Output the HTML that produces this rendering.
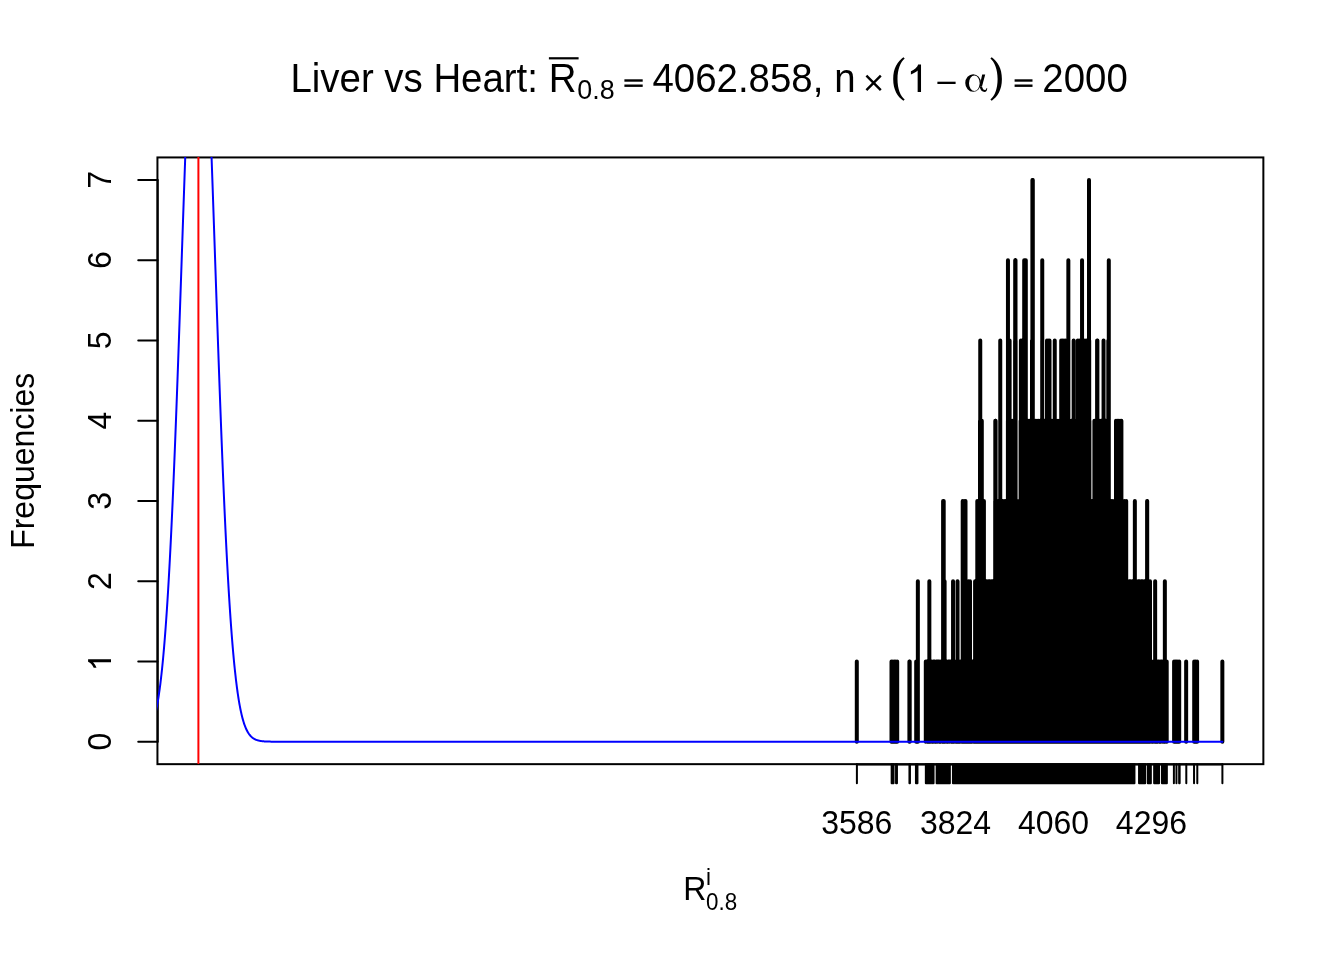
<!DOCTYPE html><html><head><meta charset="utf-8"><style>html,body{margin:0;padding:0;background:#fff;overflow:hidden}svg{display:block;will-change:transform}text{font-family:"Liberation Sans",sans-serif}</style></head><body>
<svg width="1344" height="960" viewBox="0 0 1344 960">
<rect width="1344" height="960" fill="#fff"/>
<defs><clipPath id="pc"><rect x="157.0" y="157.0" width="1106.90" height="607.20"/></clipPath></defs>
<path d="M856.80 741.69V661.44M891.50 741.69V661.44M892.92 741.69V661.44M894.35 741.69V661.44M895.77 741.69V661.44M897.20 741.69V661.44M909.40 741.69V661.44M909.70 741.69V661.44M916.20 741.69V661.44M917.00 741.69V661.44M917.80 741.69V661.44M917.85 741.69V581.19M925.80 741.69V661.44M927.30 741.69V661.44M928.79 741.69V661.44M929.35 741.69V581.19M930.29 741.69V661.44M931.79 741.69V661.44M933.28 741.69V661.44M934.78 741.69V661.44M936.27 741.69V661.44M937.77 741.69V661.44M939.27 741.69V661.44M940.76 741.69V661.44M942.26 741.69V661.44M943.10 741.69V500.94M943.20 741.69V581.19M943.70 741.69V500.94M943.76 741.69V661.44M944.60 741.69V581.19M945.25 741.69V661.44M946.75 741.69V661.44M948.24 741.69V661.44M949.74 741.69V661.44M951.24 741.69V661.44M952.73 741.69V661.44M953.05 741.69V581.19M954.23 741.69V661.44M955.73 741.69V661.44M957.22 741.69V661.44M957.55 741.69V581.19M958.72 741.69V661.44M960.21 741.69V661.44M961.71 741.69V661.44M962.70 741.69V500.94M962.90 741.69V581.19M963.21 741.69V661.44M964.10 741.69V500.94M964.32 741.69V581.19M964.70 741.69V661.44M965.50 741.69V500.94M965.74 741.69V581.19M966.20 741.69V661.44M967.16 741.69V581.19M967.70 741.69V661.44M968.58 741.69V581.19M969.19 741.69V661.44M970.00 741.69V581.19M970.69 741.69V661.44M972.18 741.69V661.44M973.68 741.69V661.44M975.10 741.69V581.19M975.18 741.69V661.44M976.59 741.69V581.19M976.67 741.69V661.44M977.30 741.69V500.94M978.09 741.69V581.19M978.17 741.69V661.44M978.62 741.69V500.94M979.58 741.69V581.19M979.67 741.69V661.44M979.94 741.69V500.94M980.00 741.69V420.69M980.25 741.69V340.44M980.90 741.69V420.69M981.08 741.69V581.19M981.16 741.69V661.44M981.26 741.69V500.94M981.80 741.69V420.69M982.57 741.69V581.19M982.58 741.69V500.94M982.66 741.69V661.44M983.90 741.69V500.94M984.07 741.69V581.19M984.15 741.69V661.44M985.56 741.69V581.19M985.65 741.69V661.44M987.06 741.69V581.19M987.15 741.69V661.44M988.55 741.69V581.19M988.64 741.69V661.44M990.05 741.69V581.19M990.14 741.69V661.44M991.54 741.69V581.19M991.64 741.69V661.44M993.04 741.69V581.19M993.13 741.69V661.44M994.53 741.69V581.19M994.63 741.69V661.44M995.20 741.69V500.94M995.30 741.69V420.69M995.60 741.69V420.69M996.03 741.69V581.19M996.12 741.69V661.44M996.69 741.69V500.94M997.52 741.69V581.19M997.62 741.69V661.44M998.18 741.69V500.94M999.02 741.69V581.19M999.12 741.69V661.44M999.67 741.69V500.94M1000.25 741.69V420.69M1000.25 741.69V340.44M1000.51 741.69V581.19M1000.61 741.69V661.44M1001.15 741.69V500.94M1002.01 741.69V581.19M1002.11 741.69V661.44M1002.64 741.69V500.94M1003.50 741.69V581.19M1003.61 741.69V661.44M1004.13 741.69V500.94M1005.00 741.69V581.19M1005.10 741.69V661.44M1005.62 741.69V500.94M1006.49 741.69V581.19M1006.60 741.69V661.44M1007.11 741.69V500.94M1007.90 741.69V420.69M1007.95 741.69V260.19M1007.99 741.69V581.19M1008.10 741.69V661.44M1008.10 741.69V340.44M1008.60 741.69V500.94M1009.38 741.69V420.69M1009.48 741.69V581.19M1009.59 741.69V661.44M1009.60 741.69V340.44M1010.09 741.69V500.94M1010.86 741.69V420.69M1010.98 741.69V581.19M1011.09 741.69V661.44M1011.58 741.69V500.94M1012.34 741.69V420.69M1012.47 741.69V581.19M1012.58 741.69V661.44M1013.06 741.69V500.94M1013.82 741.69V420.69M1013.97 741.69V581.19M1014.08 741.69V661.44M1014.55 741.69V500.94M1015.10 741.69V340.44M1015.20 741.69V260.19M1015.30 741.69V420.69M1015.46 741.69V581.19M1015.50 741.69V260.19M1015.58 741.69V661.44M1015.60 741.69V340.44M1016.04 741.69V500.94M1016.96 741.69V581.19M1017.07 741.69V661.44M1017.53 741.69V500.94M1018.45 741.69V581.19M1018.57 741.69V661.44M1019.02 741.69V500.94M1019.95 741.69V581.19M1020.07 741.69V661.44M1020.51 741.69V500.94M1020.60 741.69V420.69M1020.90 741.69V340.44M1021.44 741.69V581.19M1021.56 741.69V661.44M1022.00 741.69V500.94M1022.08 741.69V340.44M1022.10 741.69V420.69M1022.94 741.69V581.19M1023.06 741.69V661.44M1023.25 741.69V340.44M1023.48 741.69V500.94M1023.59 741.69V420.69M1024.20 741.69V260.19M1024.43 741.69V340.44M1024.43 741.69V581.19M1024.55 741.69V661.44M1024.97 741.69V500.94M1025.00 741.69V260.19M1025.09 741.69V420.69M1025.60 741.69V340.44M1025.80 741.69V260.19M1025.93 741.69V581.19M1026.05 741.69V661.44M1026.46 741.69V500.94M1026.58 741.69V420.69M1027.42 741.69V581.19M1027.55 741.69V661.44M1027.95 741.69V500.94M1028.08 741.69V420.69M1028.92 741.69V581.19M1029.04 741.69V661.44M1029.44 741.69V500.94M1029.57 741.69V420.69M1030.41 741.69V581.19M1030.54 741.69V661.44M1030.93 741.69V500.94M1031.07 741.69V420.69M1031.91 741.69V581.19M1032.00 741.69V340.44M1032.04 741.69V661.44M1032.40 741.69V260.19M1032.40 741.69V179.94M1032.42 741.69V500.94M1032.57 741.69V420.69M1032.70 741.69V340.44M1032.80 741.69V260.19M1032.80 741.69V179.94M1033.40 741.69V581.19M1033.53 741.69V661.44M1033.90 741.69V500.94M1034.06 741.69V420.69M1034.89 741.69V581.19M1035.03 741.69V661.44M1035.39 741.69V500.94M1035.56 741.69V420.69M1036.39 741.69V581.19M1036.52 741.69V661.44M1036.88 741.69V500.94M1037.05 741.69V420.69M1037.88 741.69V581.19M1038.02 741.69V661.44M1038.37 741.69V500.94M1038.55 741.69V420.69M1039.38 741.69V581.19M1039.52 741.69V661.44M1039.86 741.69V500.94M1040.04 741.69V420.69M1040.87 741.69V581.19M1041.01 741.69V661.44M1041.35 741.69V500.94M1041.54 741.69V420.69M1042.20 741.69V340.44M1042.25 741.69V260.19M1042.37 741.69V581.19M1042.51 741.69V661.44M1042.84 741.69V500.94M1043.03 741.69V420.69M1043.86 741.69V581.19M1044.01 741.69V661.44M1044.33 741.69V500.94M1044.53 741.69V420.69M1045.36 741.69V581.19M1045.50 741.69V661.44M1045.81 741.69V500.94M1046.03 741.69V420.69M1046.85 741.69V581.19M1047.00 741.69V661.44M1047.00 741.69V340.44M1047.30 741.69V500.94M1047.52 741.69V420.69M1048.25 741.69V340.44M1048.35 741.69V581.19M1048.49 741.69V661.44M1048.79 741.69V500.94M1049.02 741.69V420.69M1049.50 741.69V340.44M1049.84 741.69V581.19M1049.99 741.69V661.44M1050.28 741.69V500.94M1050.51 741.69V420.69M1051.34 741.69V581.19M1051.49 741.69V661.44M1051.77 741.69V500.94M1052.01 741.69V420.69M1052.83 741.69V581.19M1052.98 741.69V661.44M1053.26 741.69V500.94M1053.50 741.69V420.69M1054.33 741.69V581.19M1054.48 741.69V661.44M1054.75 741.69V500.94M1054.75 741.69V340.44M1055.00 741.69V420.69M1055.82 741.69V581.19M1055.98 741.69V661.44M1056.23 741.69V500.94M1056.50 741.69V420.69M1057.32 741.69V581.19M1057.47 741.69V661.44M1057.72 741.69V500.94M1057.99 741.69V420.69M1058.81 741.69V581.19M1058.97 741.69V661.44M1059.21 741.69V500.94M1059.49 741.69V420.69M1060.31 741.69V581.19M1060.46 741.69V661.44M1060.70 741.69V500.94M1060.98 741.69V420.69M1061.20 741.69V340.44M1061.80 741.69V581.19M1061.96 741.69V661.44M1062.19 741.69V500.94M1062.48 741.69V420.69M1062.58 741.69V340.44M1063.30 741.69V581.19M1063.46 741.69V661.44M1063.68 741.69V500.94M1063.96 741.69V340.44M1063.97 741.69V420.69M1064.79 741.69V581.19M1064.95 741.69V661.44M1065.17 741.69V500.94M1065.34 741.69V340.44M1065.47 741.69V420.69M1066.29 741.69V581.19M1066.45 741.69V661.44M1066.65 741.69V500.94M1066.72 741.69V340.44M1066.97 741.69V420.69M1067.78 741.69V581.19M1067.95 741.69V661.44M1068.10 741.69V340.44M1068.14 741.69V500.94M1068.35 741.69V260.19M1068.46 741.69V420.69M1069.28 741.69V581.19M1069.44 741.69V661.44M1069.63 741.69V500.94M1069.96 741.69V420.69M1070.77 741.69V581.19M1070.94 741.69V661.44M1071.12 741.69V500.94M1071.45 741.69V420.69M1072.27 741.69V581.19M1072.43 741.69V661.44M1072.61 741.69V500.94M1072.95 741.69V420.69M1073.65 741.69V340.44M1073.76 741.69V581.19M1073.93 741.69V661.44M1074.10 741.69V500.94M1074.44 741.69V420.69M1075.26 741.69V581.19M1075.43 741.69V661.44M1075.59 741.69V500.94M1075.94 741.69V420.69M1076.75 741.69V581.19M1076.92 741.69V661.44M1077.08 741.69V500.94M1077.43 741.69V420.69M1077.80 741.69V340.44M1078.25 741.69V581.19M1078.42 741.69V661.44M1078.56 741.69V500.94M1078.93 741.69V420.69M1079.22 741.69V340.44M1079.74 741.69V581.19M1079.92 741.69V661.44M1080.05 741.69V500.94M1080.43 741.69V420.69M1080.65 741.69V340.44M1081.24 741.69V581.19M1081.41 741.69V661.44M1081.54 741.69V500.94M1081.92 741.69V420.69M1082.05 741.69V260.19M1082.08 741.69V340.44M1082.73 741.69V581.19M1082.91 741.69V661.44M1083.03 741.69V500.94M1083.42 741.69V420.69M1083.50 741.69V340.44M1084.23 741.69V581.19M1084.40 741.69V661.44M1084.52 741.69V500.94M1084.91 741.69V420.69M1084.92 741.69V340.44M1085.72 741.69V581.19M1085.90 741.69V661.44M1086.01 741.69V500.94M1086.35 741.69V340.44M1086.41 741.69V420.69M1087.22 741.69V581.19M1087.40 741.69V661.44M1087.50 741.69V500.94M1087.78 741.69V340.44M1087.90 741.69V420.69M1088.71 741.69V581.19M1088.89 741.69V661.44M1088.98 741.69V500.94M1089.00 741.69V260.19M1089.00 741.69V179.94M1089.20 741.69V340.44M1089.40 741.69V420.69M1090.21 741.69V581.19M1090.39 741.69V661.44M1090.47 741.69V500.94M1091.70 741.69V581.19M1091.89 741.69V661.44M1091.96 741.69V500.94M1093.19 741.69V581.19M1093.38 741.69V661.44M1093.45 741.69V500.94M1094.40 741.69V420.69M1094.69 741.69V581.19M1094.88 741.69V661.44M1094.94 741.69V500.94M1095.80 741.69V420.69M1096.18 741.69V581.19M1096.38 741.69V661.44M1096.43 741.69V500.94M1097.10 741.69V340.44M1097.20 741.69V420.69M1097.40 741.69V340.44M1097.68 741.69V581.19M1097.87 741.69V661.44M1097.92 741.69V500.94M1098.60 741.69V420.69M1099.17 741.69V581.19M1099.37 741.69V661.44M1099.40 741.69V500.94M1100.00 741.69V420.69M1100.67 741.69V581.19M1100.86 741.69V661.44M1100.89 741.69V500.94M1101.40 741.69V420.69M1102.16 741.69V581.19M1102.36 741.69V661.44M1102.38 741.69V500.94M1102.80 741.69V420.69M1103.55 741.69V340.44M1103.66 741.69V581.19M1103.86 741.69V661.44M1103.87 741.69V500.94M1104.20 741.69V420.69M1105.15 741.69V581.19M1105.35 741.69V661.44M1105.36 741.69V500.94M1105.60 741.69V420.69M1106.65 741.69V581.19M1106.85 741.69V500.94M1106.85 741.69V661.44M1107.00 741.69V420.69M1108.14 741.69V581.19M1108.30 741.69V340.44M1108.34 741.69V500.94M1108.35 741.69V661.44M1108.40 741.69V420.69M1108.50 741.69V340.44M1108.80 741.69V260.19M1109.64 741.69V581.19M1109.83 741.69V500.94M1109.84 741.69V661.44M1111.13 741.69V581.19M1111.31 741.69V500.94M1111.34 741.69V661.44M1112.63 741.69V581.19M1112.80 741.69V500.94M1112.83 741.69V661.44M1114.12 741.69V581.19M1114.29 741.69V500.94M1114.33 741.69V661.44M1115.62 741.69V581.19M1115.78 741.69V500.94M1115.83 741.69V661.44M1116.00 741.69V420.69M1117.11 741.69V581.19M1117.27 741.69V500.94M1117.32 741.69V661.44M1117.35 741.69V420.69M1118.61 741.69V581.19M1118.70 741.69V420.69M1118.76 741.69V500.94M1118.82 741.69V661.44M1120.05 741.69V420.69M1120.10 741.69V581.19M1120.25 741.69V500.94M1120.32 741.69V661.44M1121.40 741.69V420.69M1121.60 741.69V581.19M1121.73 741.69V500.94M1121.81 741.69V661.44M1123.09 741.69V581.19M1123.22 741.69V500.94M1123.31 741.69V661.44M1124.59 741.69V581.19M1124.71 741.69V500.94M1124.80 741.69V661.44M1126.08 741.69V581.19M1126.20 741.69V500.94M1126.30 741.69V661.44M1127.58 741.69V581.19M1127.80 741.69V661.44M1129.07 741.69V581.19M1129.29 741.69V661.44M1130.57 741.69V581.19M1130.79 741.69V661.44M1132.06 741.69V581.19M1132.29 741.69V661.44M1133.56 741.69V581.19M1133.78 741.69V661.44M1134.85 741.69V500.94M1135.05 741.69V581.19M1135.28 741.69V661.44M1136.55 741.69V581.19M1136.77 741.69V661.44M1138.04 741.69V581.19M1138.27 741.69V661.44M1139.54 741.69V581.19M1139.77 741.69V661.44M1141.03 741.69V581.19M1141.26 741.69V661.44M1142.53 741.69V581.19M1142.76 741.69V661.44M1144.02 741.69V581.19M1144.26 741.69V661.44M1145.52 741.69V581.19M1145.75 741.69V661.44M1147.01 741.69V581.19M1147.10 741.69V500.94M1147.20 741.69V500.94M1147.25 741.69V661.44M1148.51 741.69V581.19M1148.74 741.69V661.44M1150.00 741.69V581.19M1150.24 741.69V661.44M1151.74 741.69V661.44M1153.23 741.69V661.44M1154.73 741.69V661.44M1155.15 741.69V581.19M1156.23 741.69V661.44M1157.72 741.69V661.44M1159.22 741.69V661.44M1160.71 741.69V661.44M1162.21 741.69V661.44M1163.71 741.69V661.44M1164.85 741.69V581.19M1165.20 741.69V661.44M1166.70 741.69V661.44M1174.10 741.69V661.44M1175.38 741.69V661.44M1176.65 741.69V661.44M1177.92 741.69V661.44M1179.20 741.69V661.44M1186.15 741.69V661.44M1194.20 741.69V661.44M1195.65 741.69V661.44M1197.10 741.69V661.44M1222.35 741.69V661.44" stroke="#000" stroke-width="4" stroke-linecap="round" fill="none"/>
<path d="M856.90 764.16V783.36M891.65 764.16V783.36M892.60 764.16V783.36M893.55 764.16V783.36M896.05 764.16V783.36M896.95 764.16V783.36M909.45 764.16V783.36M909.95 764.16V783.36M915.95 764.16V783.36M916.70 764.16V783.36M917.45 764.16V783.36M925.85 764.16V783.36M926.81 764.16V783.36M927.77 764.16V783.36M928.74 764.16V783.36M929.70 764.16V783.36M930.66 764.16V783.36M931.62 764.16V783.36M932.59 764.16V783.36M933.55 764.16V783.36M936.65 764.16V783.36M937.59 764.16V783.36M938.54 764.16V783.36M939.48 764.16V783.36M940.42 764.16V783.36M941.36 764.16V783.36M942.31 764.16V783.36M943.25 764.16V783.36M944.19 764.16V783.36M945.14 764.16V783.36M946.08 764.16V783.36M947.02 764.16V783.36M947.96 764.16V783.36M948.91 764.16V783.36M949.85 764.16V783.36M952.95 764.16V783.36M953.95 764.16V783.36M954.94 764.16V783.36M955.94 764.16V783.36M956.94 764.16V783.36M957.94 764.16V783.36M958.93 764.16V783.36M959.93 764.16V783.36M960.93 764.16V783.36M961.93 764.16V783.36M962.92 764.16V783.36M963.92 764.16V783.36M964.92 764.16V783.36M965.91 764.16V783.36M966.91 764.16V783.36M967.91 764.16V783.36M968.91 764.16V783.36M969.90 764.16V783.36M970.90 764.16V783.36M971.90 764.16V783.36M972.90 764.16V783.36M973.89 764.16V783.36M974.89 764.16V783.36M975.89 764.16V783.36M976.88 764.16V783.36M977.88 764.16V783.36M978.88 764.16V783.36M979.88 764.16V783.36M980.87 764.16V783.36M981.87 764.16V783.36M982.87 764.16V783.36M983.86 764.16V783.36M984.86 764.16V783.36M985.86 764.16V783.36M986.86 764.16V783.36M987.85 764.16V783.36M988.85 764.16V783.36M989.85 764.16V783.36M990.85 764.16V783.36M991.84 764.16V783.36M992.84 764.16V783.36M993.84 764.16V783.36M994.83 764.16V783.36M995.83 764.16V783.36M996.83 764.16V783.36M997.83 764.16V783.36M998.82 764.16V783.36M999.82 764.16V783.36M1000.82 764.16V783.36M1001.82 764.16V783.36M1002.81 764.16V783.36M1003.81 764.16V783.36M1004.81 764.16V783.36M1005.80 764.16V783.36M1006.80 764.16V783.36M1007.80 764.16V783.36M1008.80 764.16V783.36M1009.79 764.16V783.36M1010.79 764.16V783.36M1011.79 764.16V783.36M1012.79 764.16V783.36M1013.78 764.16V783.36M1014.78 764.16V783.36M1015.78 764.16V783.36M1016.77 764.16V783.36M1017.77 764.16V783.36M1018.77 764.16V783.36M1019.77 764.16V783.36M1020.76 764.16V783.36M1021.76 764.16V783.36M1022.76 764.16V783.36M1023.75 764.16V783.36M1024.75 764.16V783.36M1025.75 764.16V783.36M1026.75 764.16V783.36M1027.74 764.16V783.36M1028.74 764.16V783.36M1029.74 764.16V783.36M1030.74 764.16V783.36M1031.73 764.16V783.36M1032.73 764.16V783.36M1033.73 764.16V783.36M1034.72 764.16V783.36M1035.72 764.16V783.36M1036.72 764.16V783.36M1037.72 764.16V783.36M1038.71 764.16V783.36M1039.71 764.16V783.36M1040.71 764.16V783.36M1041.71 764.16V783.36M1042.70 764.16V783.36M1043.70 764.16V783.36M1044.70 764.16V783.36M1045.69 764.16V783.36M1046.69 764.16V783.36M1047.69 764.16V783.36M1048.69 764.16V783.36M1049.68 764.16V783.36M1050.68 764.16V783.36M1051.68 764.16V783.36M1052.68 764.16V783.36M1053.67 764.16V783.36M1054.67 764.16V783.36M1055.67 764.16V783.36M1056.66 764.16V783.36M1057.66 764.16V783.36M1058.66 764.16V783.36M1059.66 764.16V783.36M1060.65 764.16V783.36M1061.65 764.16V783.36M1062.65 764.16V783.36M1063.65 764.16V783.36M1064.64 764.16V783.36M1065.64 764.16V783.36M1066.64 764.16V783.36M1067.63 764.16V783.36M1068.63 764.16V783.36M1069.63 764.16V783.36M1070.63 764.16V783.36M1071.62 764.16V783.36M1072.62 764.16V783.36M1073.62 764.16V783.36M1074.61 764.16V783.36M1075.61 764.16V783.36M1076.61 764.16V783.36M1077.61 764.16V783.36M1078.60 764.16V783.36M1079.60 764.16V783.36M1080.60 764.16V783.36M1081.60 764.16V783.36M1082.59 764.16V783.36M1083.59 764.16V783.36M1084.59 764.16V783.36M1085.58 764.16V783.36M1086.58 764.16V783.36M1087.58 764.16V783.36M1088.58 764.16V783.36M1089.57 764.16V783.36M1090.57 764.16V783.36M1091.57 764.16V783.36M1092.57 764.16V783.36M1093.56 764.16V783.36M1094.56 764.16V783.36M1095.56 764.16V783.36M1096.55 764.16V783.36M1097.55 764.16V783.36M1098.55 764.16V783.36M1099.55 764.16V783.36M1100.54 764.16V783.36M1101.54 764.16V783.36M1102.54 764.16V783.36M1103.54 764.16V783.36M1104.53 764.16V783.36M1105.53 764.16V783.36M1106.53 764.16V783.36M1107.52 764.16V783.36M1108.52 764.16V783.36M1109.52 764.16V783.36M1110.52 764.16V783.36M1111.51 764.16V783.36M1112.51 764.16V783.36M1113.51 764.16V783.36M1114.50 764.16V783.36M1115.50 764.16V783.36M1116.50 764.16V783.36M1117.50 764.16V783.36M1118.49 764.16V783.36M1119.49 764.16V783.36M1120.49 764.16V783.36M1121.49 764.16V783.36M1122.48 764.16V783.36M1123.48 764.16V783.36M1124.48 764.16V783.36M1125.47 764.16V783.36M1126.47 764.16V783.36M1127.47 764.16V783.36M1128.47 764.16V783.36M1129.46 764.16V783.36M1130.46 764.16V783.36M1131.46 764.16V783.36M1132.46 764.16V783.36M1133.45 764.16V783.36M1134.45 764.16V783.36M1139.05 764.16V783.36M1139.92 764.16V783.36M1140.79 764.16V783.36M1141.66 764.16V783.36M1142.54 764.16V783.36M1143.41 764.16V783.36M1144.28 764.16V783.36M1145.15 764.16V783.36M1147.85 764.16V783.36M1148.85 764.16V783.36M1149.85 764.16V783.36M1150.85 764.16V783.36M1154.15 764.16V783.36M1155.13 764.16V783.36M1156.11 764.16V783.36M1157.09 764.16V783.36M1158.07 764.16V783.36M1159.05 764.16V783.36M1161.95 764.16V783.36M1162.93 764.16V783.36M1163.91 764.16V783.36M1164.89 764.16V783.36M1165.87 764.16V783.36M1166.85 764.16V783.36M1173.90 764.16V783.36M1176.45 764.16V783.36M1179.15 764.16V783.36M1179.65 764.16V783.36M1186.30 764.16V783.36M1194.05 764.16V783.36M1197.30 764.16V783.36M1222.40 764.16V783.36" stroke="#000" stroke-width="2" fill="none" stroke-linecap="round"/>
<rect x="157.44" y="157.44" width="1105.9199999999998" height="606.72" stroke="#000" stroke-width="2" fill="none"/>
<path d="M157.7 741.69V179.94M856.72 764.5H1222.40" stroke="#000" stroke-width="2" fill="none" stroke-linecap="round"/>
<path d="M138.24 741.69H157.44M138.24 661.44H157.44M138.24 581.19H157.44M138.24 500.94H157.44M138.24 420.69H157.44M138.24 340.44H157.44M138.24 260.19H157.44M138.24 179.94H157.44" stroke="#000" stroke-width="2" fill="none" stroke-linecap="round"/>
<path d="M149.44 731.34 L149.69 730.87 L149.94 730.38 L150.19 729.87 L150.44 729.35 L150.69 728.80 L150.94 728.23 L151.19 727.64 L151.44 727.03 L151.69 726.39 L151.94 725.73 L152.19 725.05 L152.44 724.34 L152.69 723.60 L152.94 722.84 L153.19 722.05 L153.44 721.23 L153.69 720.38 L153.94 719.50 L154.19 718.59 L154.44 717.64 L154.69 716.67 L154.94 715.66 L155.19 714.62 L155.44 713.54 L155.69 712.42 L155.94 711.27 L156.19 710.08 L156.44 708.85 L156.69 707.58 L156.94 706.27 L157.19 704.92 L157.44 703.52 L157.69 702.08 L157.94 700.60 L158.19 699.06 L158.44 697.49 L158.69 695.86 L158.94 694.18 L159.19 692.46 L159.44 690.68 L159.69 688.85 L159.94 686.97 L160.19 685.04 L160.44 683.05 L160.69 681.00 L160.94 678.90 L161.19 676.73 L161.44 674.51 L161.69 672.23 L161.94 669.89 L162.19 667.48 L162.44 665.01 L162.69 662.48 L162.94 659.88 L163.19 657.22 L163.44 654.49 L163.69 651.69 L163.94 648.82 L164.19 645.88 L164.44 642.87 L164.69 639.79 L164.94 636.64 L165.19 633.42 L165.44 630.12 L165.69 626.75 L165.94 623.30 L166.19 619.78 L166.44 616.18 L166.69 612.50 L166.94 608.75 L167.19 604.92 L167.44 601.01 L167.69 597.02 L167.94 592.95 L168.19 588.80 L168.44 584.57 L168.69 580.26 L168.94 575.87 L169.19 571.40 L169.44 566.85 L169.69 562.21 L169.94 557.50 L170.19 552.71 L170.44 547.83 L170.69 542.88 L170.94 537.84 L171.19 532.72 L171.44 527.53 L171.69 522.25 L171.94 516.90 L172.19 511.46 L172.44 505.95 L172.69 500.36 L172.94 494.70 L173.19 488.96 L173.44 483.14 L173.69 477.25 L173.94 471.29 L174.19 465.26 L174.44 459.15 L174.69 452.98 L174.94 446.74 L175.19 440.43 L175.44 434.05 L175.69 427.62 L175.94 421.12 L176.19 414.56 L176.44 407.94 L176.69 401.26 L176.94 394.53 L177.19 387.75 L177.44 380.92 L177.69 374.04 L177.94 367.11 L178.19 360.14 L178.44 353.12 L178.69 346.07 L178.94 338.98 L179.19 331.86 L179.44 324.70 L179.69 317.52 L179.94 310.31 L180.19 303.08 L180.44 295.82 L180.69 288.55 L180.94 281.27 L181.19 273.97 L181.44 266.67 L181.69 259.36 L181.94 252.05 L182.19 244.74 L182.44 237.44 L182.69 230.15 L182.94 222.87 L183.19 215.60 L183.44 208.35 L183.69 201.13 L183.94 193.93 L184.19 186.76 L184.44 179.63 L184.69 172.53 L184.94 165.48 L185.19 158.47 L185.44 151.51 L185.69 144.60 L185.94 137.74 L186.19 130.95 L186.44 124.22 L186.69 117.55 L186.94 110.96 L187.19 104.44 L187.44 98.01 L187.69 91.65 L187.94 85.38 L188.19 79.20 L188.44 73.11 L188.69 67.12 L188.94 61.23 L189.19 55.45 L189.44 49.77 L189.69 44.20 L189.94 38.75 L190.19 33.42 L190.44 28.21 L190.69 23.12 L190.94 18.16 L191.19 13.33 L191.44 8.63 L191.69 4.08 L191.94 -0.34 L192.19 -4.62 L192.44 -8.75 L192.69 -12.73 L192.94 -16.56 L193.19 -20.24 L193.44 -23.76 L193.69 -27.12 L193.94 -30.33 L194.19 -33.37 L194.44 -36.24 L194.69 -38.95 L194.94 -41.50 L195.19 -43.87 L195.44 -46.07 L195.69 -48.10 L195.94 -49.95 L196.19 -51.63 L196.44 -53.13 L196.69 -54.45 L196.94 -55.60 L197.19 -56.57 L197.44 -57.35 L197.69 -57.96 L197.94 -58.38 L198.19 -58.62 L198.44 -58.69 L198.69 -58.57 L198.94 -58.26 L199.19 -57.78 L199.44 -57.12 L199.69 -56.28 L199.94 -55.25 L200.19 -54.05 L200.44 -52.67 L200.69 -51.11 L200.94 -49.38 L201.19 -47.47 L201.44 -45.38 L201.69 -43.13 L201.94 -40.70 L202.19 -38.10 L202.44 -35.34 L202.69 -32.41 L202.94 -29.32 L203.19 -26.06 L203.44 -22.65 L203.69 -19.08 L203.94 -15.35 L204.19 -11.47 L204.44 -7.44 L204.69 -3.26 L204.94 1.06 L205.19 5.52 L205.44 10.12 L205.69 14.86 L205.94 19.73 L206.19 24.73 L206.44 29.86 L206.69 35.11 L206.94 40.48 L207.19 45.97 L207.44 51.58 L207.69 57.29 L207.94 63.11 L208.19 69.03 L208.44 75.05 L208.69 81.17 L208.94 87.38 L209.19 93.67 L209.44 100.06 L209.69 106.52 L209.94 113.06 L210.19 119.68 L210.44 126.36 L210.69 133.11 L210.94 139.93 L211.19 146.80 L211.44 153.73 L211.69 160.71 L211.94 167.73 L212.19 174.80 L212.44 181.91 L212.69 189.05 L212.94 196.23 L213.19 203.44 L213.44 210.67 L213.69 217.92 L213.94 225.19 L214.19 232.48 L214.44 239.78 L214.69 247.08 L214.94 254.39 L215.19 261.70 L215.44 269.01 L215.69 276.31 L215.94 283.60 L216.19 290.88 L216.44 298.14 L216.69 305.39 L216.94 312.62 L217.19 319.82 L217.44 326.99 L217.69 334.14 L217.94 341.25 L218.19 348.33 L218.44 355.37 L218.69 362.37 L218.94 369.33 L219.19 376.24 L219.44 383.11 L219.69 389.93 L219.94 396.69 L220.19 403.41 L220.44 410.06 L220.69 416.66 L220.94 423.20 L221.19 429.68 L221.44 436.10 L221.69 442.45 L221.94 448.74 L222.19 454.96 L222.44 461.11 L222.69 467.19 L222.94 473.20 L223.19 479.14 L223.44 485.01 L223.69 490.80 L223.94 496.52 L224.19 502.16 L224.44 507.72 L224.69 513.21 L224.94 518.62 L225.19 523.95 L225.44 529.20 L225.69 534.37 L225.94 539.46 L226.19 544.47 L226.44 549.40 L226.69 554.25 L226.94 559.02 L227.19 563.71 L227.44 568.31 L227.69 572.84 L227.94 577.28 L228.19 581.65 L228.44 585.93 L228.69 590.13 L228.94 594.26 L229.19 598.30 L229.44 602.27 L229.69 606.15 L229.94 609.96 L230.19 613.69 L230.44 617.34 L230.69 620.91 L230.94 624.41 L231.19 627.84 L231.44 631.18 L231.69 634.46 L231.94 637.66 L232.19 640.79 L232.44 643.84 L232.69 646.83 L232.94 649.74 L233.19 652.59 L233.44 655.37 L233.69 658.08 L233.94 660.72 L234.19 663.30 L234.44 665.81 L234.69 668.26 L234.94 670.64 L235.19 672.97 L235.44 675.23 L235.69 677.43 L235.94 679.57 L236.19 681.66 L236.44 683.69 L236.69 685.66 L236.94 687.58 L237.19 689.45 L237.44 691.26 L237.69 693.02 L237.94 694.73 L238.19 696.39 L238.44 698.00 L238.69 699.56 L238.94 701.08 L239.19 702.55 L239.44 703.97 L239.69 705.35 L239.94 706.69 L240.19 707.99 L240.44 709.25 L240.69 710.47 L240.94 711.64 L241.19 712.78 L241.44 713.89 L241.69 714.95 L241.94 715.99 L242.19 716.98 L242.44 717.95 L242.69 718.88 L242.94 719.78 L243.19 720.65 L243.44 721.49 L243.69 722.30 L243.94 723.08 L244.19 723.84 L244.44 724.57 L244.69 725.27 L244.94 725.95 L245.19 726.60 L245.44 727.23 L245.69 727.83 L245.94 728.42 L246.19 728.98 L246.44 729.52 L246.69 730.04 L246.94 730.54 L247.19 731.02 L247.44 731.48 L247.69 731.93 L247.94 732.36 L248.19 732.77 L248.44 733.16 L248.69 733.54 L248.94 733.91 L249.19 734.26 L249.44 734.59 L249.69 734.91 L249.94 735.22 L250.19 735.52 L250.44 735.80 L250.69 736.07 L250.94 736.33 L251.19 736.58 L251.44 736.82 L251.69 737.05 L251.94 737.27 L252.19 737.48 L252.44 737.68 L252.69 737.87 L252.94 738.06 L253.19 738.23 L253.44 738.40 L253.69 738.56 L253.94 738.72 L254.19 738.86 L254.44 739.00 L254.69 739.14 L254.94 739.26 L255.19 739.38 L255.44 739.50 L255.69 739.61 L255.94 739.72 L256.19 739.82 L256.44 739.91 L256.69 740.00 L256.94 740.09 L257.19 740.17 L257.44 740.25 L257.69 740.33 L257.94 740.40 L258.19 740.47 L258.44 740.53 L258.69 740.59 L258.94 740.65 L259.19 740.71 L259.44 740.76 L259.69 740.81 L259.94 740.86 L260.19 740.90 L260.44 740.95 L260.69 740.99 L260.94 741.03 L261.19 741.06 L261.44 741.10 L261.69 741.13 L261.94 741.16 L262.19 741.19 L262.44 741.22 L262.69 741.25 L262.94 741.27 L263.19 741.29 L263.44 741.32 L263.69 741.34 L263.94 741.36 L264.19 741.38 L264.44 741.40 L264.69 741.41 L264.94 741.43 L265.19 741.44 L265.44 741.46 L265.69 741.47 L265.94 741.49 L266.19 741.50 L266.44 741.51 L266.69 741.52 L266.94 741.53 L267.19 741.54 L267.44 741.55 L267.69 741.56 L267.94 741.57 L268.19 741.57 L268.44 741.58 L268.69 741.59 L268.94 741.59 L269.19 741.60 L269.44 741.61 L269.69 741.61 L269.94 741.62 L270.19 741.62 L270.44 741.62 L270.69 741.63 L270.94 741.63 L271.19 741.64 L271.44 741.64 L271.69 741.64 L271.94 741.65 L272.19 741.65 L272.44 741.65 L272.69 741.65 L272.94 741.66 L273.19 741.66 L273.44 741.66 L273.69 741.66 L273.94 741.66 L274.19 741.67 L274.44 741.67 L274.69 741.67 L274.94 741.67 L275.19 741.67 L275.44 741.67 L275.69 741.67 L275.94 741.68 L276.19 741.68 L276.44 741.68 L276.69 741.68 L276.94 741.68 L277.19 741.68 L277.44 741.68 L277.69 741.68 L277.94 741.68 L278.19 741.68 L278.44 741.68 L280.44 741.69 L282.44 741.69 L284.44 741.69 L286.44 741.69 L288.44 741.69 L290.44 741.69 L292.44 741.69 L294.44 741.69 L296.44 741.69 L298.44 741.69 L300.44 741.69 L302.44 741.69 L304.44 741.69 L306.44 741.69 L308.44 741.69 L310.44 741.69 L312.44 741.69 L314.44 741.69 L316.44 741.69 L318.44 741.69 L320.44 741.69 L322.44 741.69 L324.44 741.69 L326.44 741.69 L328.44 741.69 L330.44 741.69 L332.44 741.69 L334.44 741.69 L336.44 741.69 L338.44 741.69 L340.44 741.69 L342.44 741.69 L344.44 741.69 L346.44 741.69 L348.44 741.69 L350.44 741.69 L352.44 741.69 L354.44 741.69 L356.44 741.69 L358.44 741.69 L360.44 741.69 L362.44 741.69 L364.44 741.69 L366.44 741.69 L368.44 741.69 L370.44 741.69 L372.44 741.69 L374.44 741.69 L376.44 741.69 L378.44 741.69 L380.44 741.69 L382.44 741.69 L384.44 741.69 L386.44 741.69 L388.44 741.69 L390.44 741.69 L392.44 741.69 L394.44 741.69 L396.44 741.69 L398.44 741.69 L400.44 741.69 L402.44 741.69 L404.44 741.69 L406.44 741.69 L408.44 741.69 L410.44 741.69 L412.44 741.69 L414.44 741.69 L416.44 741.69 L418.44 741.69 L420.44 741.69 L422.44 741.69 L424.44 741.69 L426.44 741.69 L428.44 741.69 L430.44 741.69 L432.44 741.69 L434.44 741.69 L436.44 741.69 L438.44 741.69 L440.44 741.69 L442.44 741.69 L444.44 741.69 L446.44 741.69 L448.44 741.69 L450.44 741.69 L452.44 741.69 L454.44 741.69 L456.44 741.69 L458.44 741.69 L460.44 741.69 L462.44 741.69 L464.44 741.69 L466.44 741.69 L468.44 741.69 L470.44 741.69 L472.44 741.69 L474.44 741.69 L476.44 741.69 L478.44 741.69 L480.44 741.69 L482.44 741.69 L484.44 741.69 L486.44 741.69 L488.44 741.69 L490.44 741.69 L492.44 741.69 L494.44 741.69 L496.44 741.69 L498.44 741.69 L500.44 741.69 L502.44 741.69 L504.44 741.69 L506.44 741.69 L508.44 741.69 L510.44 741.69 L512.44 741.69 L514.44 741.69 L516.44 741.69 L518.44 741.69 L520.44 741.69 L522.44 741.69 L524.44 741.69 L526.44 741.69 L528.44 741.69 L530.44 741.69 L532.44 741.69 L534.44 741.69 L536.44 741.69 L538.44 741.69 L540.44 741.69 L542.44 741.69 L544.44 741.69 L546.44 741.69 L548.44 741.69 L550.44 741.69 L552.44 741.69 L554.44 741.69 L556.44 741.69 L558.44 741.69 L560.44 741.69 L562.44 741.69 L564.44 741.69 L566.44 741.69 L568.44 741.69 L570.44 741.69 L572.44 741.69 L574.44 741.69 L576.44 741.69 L578.44 741.69 L580.44 741.69 L582.44 741.69 L584.44 741.69 L586.44 741.69 L588.44 741.69 L590.44 741.69 L592.44 741.69 L594.44 741.69 L596.44 741.69 L598.44 741.69 L600.44 741.69 L602.44 741.69 L604.44 741.69 L606.44 741.69 L608.44 741.69 L610.44 741.69 L612.44 741.69 L614.44 741.69 L616.44 741.69 L618.44 741.69 L620.44 741.69 L622.44 741.69 L624.44 741.69 L626.44 741.69 L628.44 741.69 L630.44 741.69 L632.44 741.69 L634.44 741.69 L636.44 741.69 L638.44 741.69 L640.44 741.69 L642.44 741.69 L644.44 741.69 L646.44 741.69 L648.44 741.69 L650.44 741.69 L652.44 741.69 L654.44 741.69 L656.44 741.69 L658.44 741.69 L660.44 741.69 L662.44 741.69 L664.44 741.69 L666.44 741.69 L668.44 741.69 L670.44 741.69 L672.44 741.69 L674.44 741.69 L676.44 741.69 L678.44 741.69 L680.44 741.69 L682.44 741.69 L684.44 741.69 L686.44 741.69 L688.44 741.69 L690.44 741.69 L692.44 741.69 L694.44 741.69 L696.44 741.69 L698.44 741.69 L700.44 741.69 L702.44 741.69 L704.44 741.69 L706.44 741.69 L708.44 741.69 L710.44 741.69 L712.44 741.69 L714.44 741.69 L716.44 741.69 L718.44 741.69 L720.44 741.69 L722.44 741.69 L724.44 741.69 L726.44 741.69 L728.44 741.69 L730.44 741.69 L732.44 741.69 L734.44 741.69 L736.44 741.69 L738.44 741.69 L740.44 741.69 L742.44 741.69 L744.44 741.69 L746.44 741.69 L748.44 741.69 L750.44 741.69 L752.44 741.69 L754.44 741.69 L756.44 741.69 L758.44 741.69 L760.44 741.69 L762.44 741.69 L764.44 741.69 L766.44 741.69 L768.44 741.69 L770.44 741.69 L772.44 741.69 L774.44 741.69 L776.44 741.69 L778.44 741.69 L780.44 741.69 L782.44 741.69 L784.44 741.69 L786.44 741.69 L788.44 741.69 L790.44 741.69 L792.44 741.69 L794.44 741.69 L796.44 741.69 L798.44 741.69 L800.44 741.69 L802.44 741.69 L804.44 741.69 L806.44 741.69 L808.44 741.69 L810.44 741.69 L812.44 741.69 L814.44 741.69 L816.44 741.69 L818.44 741.69 L820.44 741.69 L822.44 741.69 L824.44 741.69 L826.44 741.69 L828.44 741.69 L830.44 741.69 L832.44 741.69 L834.44 741.69 L836.44 741.69 L838.44 741.69 L840.44 741.69 L842.44 741.69 L844.44 741.69 L846.44 741.69 L848.44 741.69 L850.44 741.69 L852.44 741.69 L854.44 741.69 L856.44 741.69 L858.44 741.69 L860.44 741.69 L862.44 741.69 L864.44 741.69 L866.44 741.69 L868.44 741.69 L870.44 741.69 L872.44 741.69 L874.44 741.69 L876.44 741.69 L878.44 741.69 L880.44 741.69 L882.44 741.69 L884.44 741.69 L886.44 741.69 L888.44 741.69 L890.44 741.69 L892.44 741.69 L894.44 741.69 L896.44 741.69 L898.44 741.69 L900.44 741.69 L902.44 741.69 L904.44 741.69 L906.44 741.69 L908.44 741.69 L910.44 741.69 L912.44 741.69 L914.44 741.69 L916.44 741.69 L918.44 741.69 L920.44 741.69 L922.44 741.69 L924.44 741.69 L926.44 741.69 L928.44 741.69 L930.44 741.69 L932.44 741.69 L934.44 741.69 L936.44 741.69 L938.44 741.69 L940.44 741.69 L942.44 741.69 L944.44 741.69 L946.44 741.69 L948.44 741.69 L950.44 741.69 L952.44 741.69 L954.44 741.69 L956.44 741.69 L958.44 741.69 L960.44 741.69 L962.44 741.69 L964.44 741.69 L966.44 741.69 L968.44 741.69 L970.44 741.69 L972.44 741.69 L974.44 741.69 L976.44 741.69 L978.44 741.69 L980.44 741.69 L982.44 741.69 L984.44 741.69 L986.44 741.69 L988.44 741.69 L990.44 741.69 L992.44 741.69 L994.44 741.69 L996.44 741.69 L998.44 741.69 L1000.44 741.69 L1002.44 741.69 L1004.44 741.69 L1006.44 741.69 L1008.44 741.69 L1010.44 741.69 L1012.44 741.69 L1014.44 741.69 L1016.44 741.69 L1018.44 741.69 L1020.44 741.69 L1022.44 741.69 L1024.44 741.69 L1026.44 741.69 L1028.44 741.69 L1030.44 741.69 L1032.44 741.69 L1034.44 741.69 L1036.44 741.69 L1038.44 741.69 L1040.44 741.69 L1042.44 741.69 L1044.44 741.69 L1046.44 741.69 L1048.44 741.69 L1050.44 741.69 L1052.44 741.69 L1054.44 741.69 L1056.44 741.69 L1058.44 741.69 L1060.44 741.69 L1062.44 741.69 L1064.44 741.69 L1066.44 741.69 L1068.44 741.69 L1070.44 741.69 L1072.44 741.69 L1074.44 741.69 L1076.44 741.69 L1078.44 741.69 L1080.44 741.69 L1082.44 741.69 L1084.44 741.69 L1086.44 741.69 L1088.44 741.69 L1090.44 741.69 L1092.44 741.69 L1094.44 741.69 L1096.44 741.69 L1098.44 741.69 L1100.44 741.69 L1102.44 741.69 L1104.44 741.69 L1106.44 741.69 L1108.44 741.69 L1110.44 741.69 L1112.44 741.69 L1114.44 741.69 L1116.44 741.69 L1118.44 741.69 L1120.44 741.69 L1122.44 741.69 L1124.44 741.69 L1126.44 741.69 L1128.44 741.69 L1130.44 741.69 L1132.44 741.69 L1134.44 741.69 L1136.44 741.69 L1138.44 741.69 L1140.44 741.69 L1142.44 741.69 L1144.44 741.69 L1146.44 741.69 L1148.44 741.69 L1150.44 741.69 L1152.44 741.69 L1154.44 741.69 L1156.44 741.69 L1158.44 741.69 L1160.44 741.69 L1162.44 741.69 L1164.44 741.69 L1166.44 741.69 L1168.44 741.69 L1170.44 741.69 L1172.44 741.69 L1174.44 741.69 L1176.44 741.69 L1178.44 741.69 L1180.44 741.69 L1182.44 741.69 L1184.44 741.69 L1186.44 741.69 L1188.44 741.69 L1190.44 741.69 L1192.44 741.69 L1194.44 741.69 L1196.44 741.69 L1198.44 741.69 L1200.44 741.69 L1202.44 741.69 L1204.44 741.69 L1206.44 741.69 L1208.44 741.69 L1210.44 741.69 L1212.44 741.69 L1214.44 741.69 L1216.44 741.69 L1218.44 741.69 L1220.44 741.69 L1222.40 741.69" stroke="#0000ff" stroke-width="2" fill="none" stroke-linejoin="round" stroke-linecap="round" clip-path="url(#pc)"/>
<path d="M198.40 156.0V763.2" stroke="#ff0000" stroke-width="2" fill="none" stroke-linecap="round" clip-path="url(#pc)"/>
<text transform="translate(111,741.69) rotate(-90) scale(1,1.045)" text-anchor="middle" font-size="32">0</text>
<path d="M763 0L583 0L583 1147C540 1106 480 1064 410 1023C340 982 277 952 223 932L223 1106C315 1149 395 1201 463 1260C531 1319 579 1379 608 1466L763 1466Z" fill="#000" transform="translate(111,662.34) rotate(-90) translate(-8.898,0) scale(0.015625,-0.015625)"/>
<text transform="translate(111,581.19) rotate(-90) scale(1,1.045)" text-anchor="middle" font-size="32">2</text>
<text transform="translate(111,500.94) rotate(-90) scale(1,1.045)" text-anchor="middle" font-size="32">3</text>
<text transform="translate(111,420.69) rotate(-90) scale(1,1.045)" text-anchor="middle" font-size="32">4</text>
<text transform="translate(111,340.44) rotate(-90) scale(1,1.045)" text-anchor="middle" font-size="32">5</text>
<text transform="translate(111,260.19) rotate(-90) scale(1,1.045)" text-anchor="middle" font-size="32">6</text>
<text transform="translate(111,179.94) rotate(-90) scale(1,1.045)" text-anchor="middle" font-size="32">7</text>
<text transform="translate(34.4,460.8) rotate(-90) scale(1,1.045)" text-anchor="middle" font-size="32">Frequencies</text>
<text transform="translate(856.72,834.3) scale(1,1.045)" text-anchor="middle" font-size="32">3586</text>
<text transform="translate(955.50,834.3) scale(1,1.045)" text-anchor="middle" font-size="32">3824</text>
<text transform="translate(1053.46,834.3) scale(1,1.045)" text-anchor="middle" font-size="32">4060</text>
<text transform="translate(1151.42,834.3) scale(1,1.045)" text-anchor="middle" font-size="32">4296</text>
<text transform="translate(683.27,899.9) scale(1,1.045)" font-size="32">R</text>
<text transform="translate(706.10,884.6) scale(1,1.045)" font-size="22.4">i</text>
<text transform="translate(706.02,909.8) scale(1,1.045)" font-size="22.4">0.8</text>
<text transform="translate(290.45,92.0) scale(1,1.045)" font-size="38.4">Liver vs Heart:</text>
<text transform="translate(548.85,92.0) scale(1,1.045)" font-size="38.4">R</text>
<rect x="548.9" y="57.2" width="29.7" height="2.2" fill="#000"/>
<text transform="translate(577.35,98.8) scale(1,1.045)" font-size="26.88">0.8</text>
<rect x="624.4" y="79.3" width="18.30" height="2.4" fill="#000"/><rect x="624.4" y="84.5" width="18.30" height="2.4" fill="#000"/>
<rect x="1014.6" y="79.3" width="17.90" height="2.4" fill="#000"/><rect x="1014.6" y="84.5" width="17.90" height="2.4" fill="#000"/>
<text transform="translate(652.52,92.0) scale(1,1.045)" font-size="38.4">4062.858,</text>
<text transform="translate(834.15,92.0) scale(1,1.045)" font-size="38.4">n</text>
<path d="M866.4 75.6L880.8 90.2M880.8 75.6L866.4 90.2" stroke="#000" stroke-width="2.4" fill="none"/>
<path d="M903.4 57.2C897.5 61.5 893.2 68 893.2 79.0C893.2 90 897.5 96.5 903.4 100.8L904.7 99.6C900.5 96 897.5 89 897.5 79.0C897.5 69 900.5 62 904.7 58.4Z" fill="#000"/>
<path d="M903.4 57.2C897.5 61.5 893.2 68 893.2 79.0C893.2 90 897.5 96.5 903.4 100.8L904.7 99.6C900.5 96 897.5 89 897.5 79.0C897.5 69 900.5 62 904.7 58.4Z" fill="#000" transform="translate(1895.1,0) scale(-1,1)"/>
<path d="M763 0L583 0L583 1147C540 1106 480 1064 410 1023C340 982 277 952 223 932L223 1106C315 1149 395 1201 463 1260C531 1319 579 1379 608 1466L763 1466Z" fill="#000" transform="translate(906.72,92) scale(0.018750,-0.018750)"/>
<rect x="937.4" y="81.7" width="18.2" height="2.3" fill="#000"/>
<path fill-rule="evenodd" fill="#000" d="M981.0 82.96A7.87 8.8 0 1 0 965.26 82.96A7.87 8.8 0 1 0 981.0 82.96ZM979.7 83.25A5.35 7.75 0 1 0 969.0 83.25A5.35 7.75 0 1 0 979.7 83.25Z"/>
<path fill="#000" d="M982.2 74.6L985.2 74.6L982.0 86.6L979.5 86.6Z"/>
<path fill="#000" d="M979.6 86.6C980.4 90.4 982.3 92.0 984.5 92.0C986.2 92.0 987.2 90.3 987.2 87.9L986.6 87.9C986.3 89.3 985.6 89.9 984.9 89.9C983.6 89.9 982.6 88.9 982.0 86.4Z"/>
<text transform="translate(1042.37,92.0) scale(1,1.045)" font-size="38.4">2000</text>
</svg></body></html>
